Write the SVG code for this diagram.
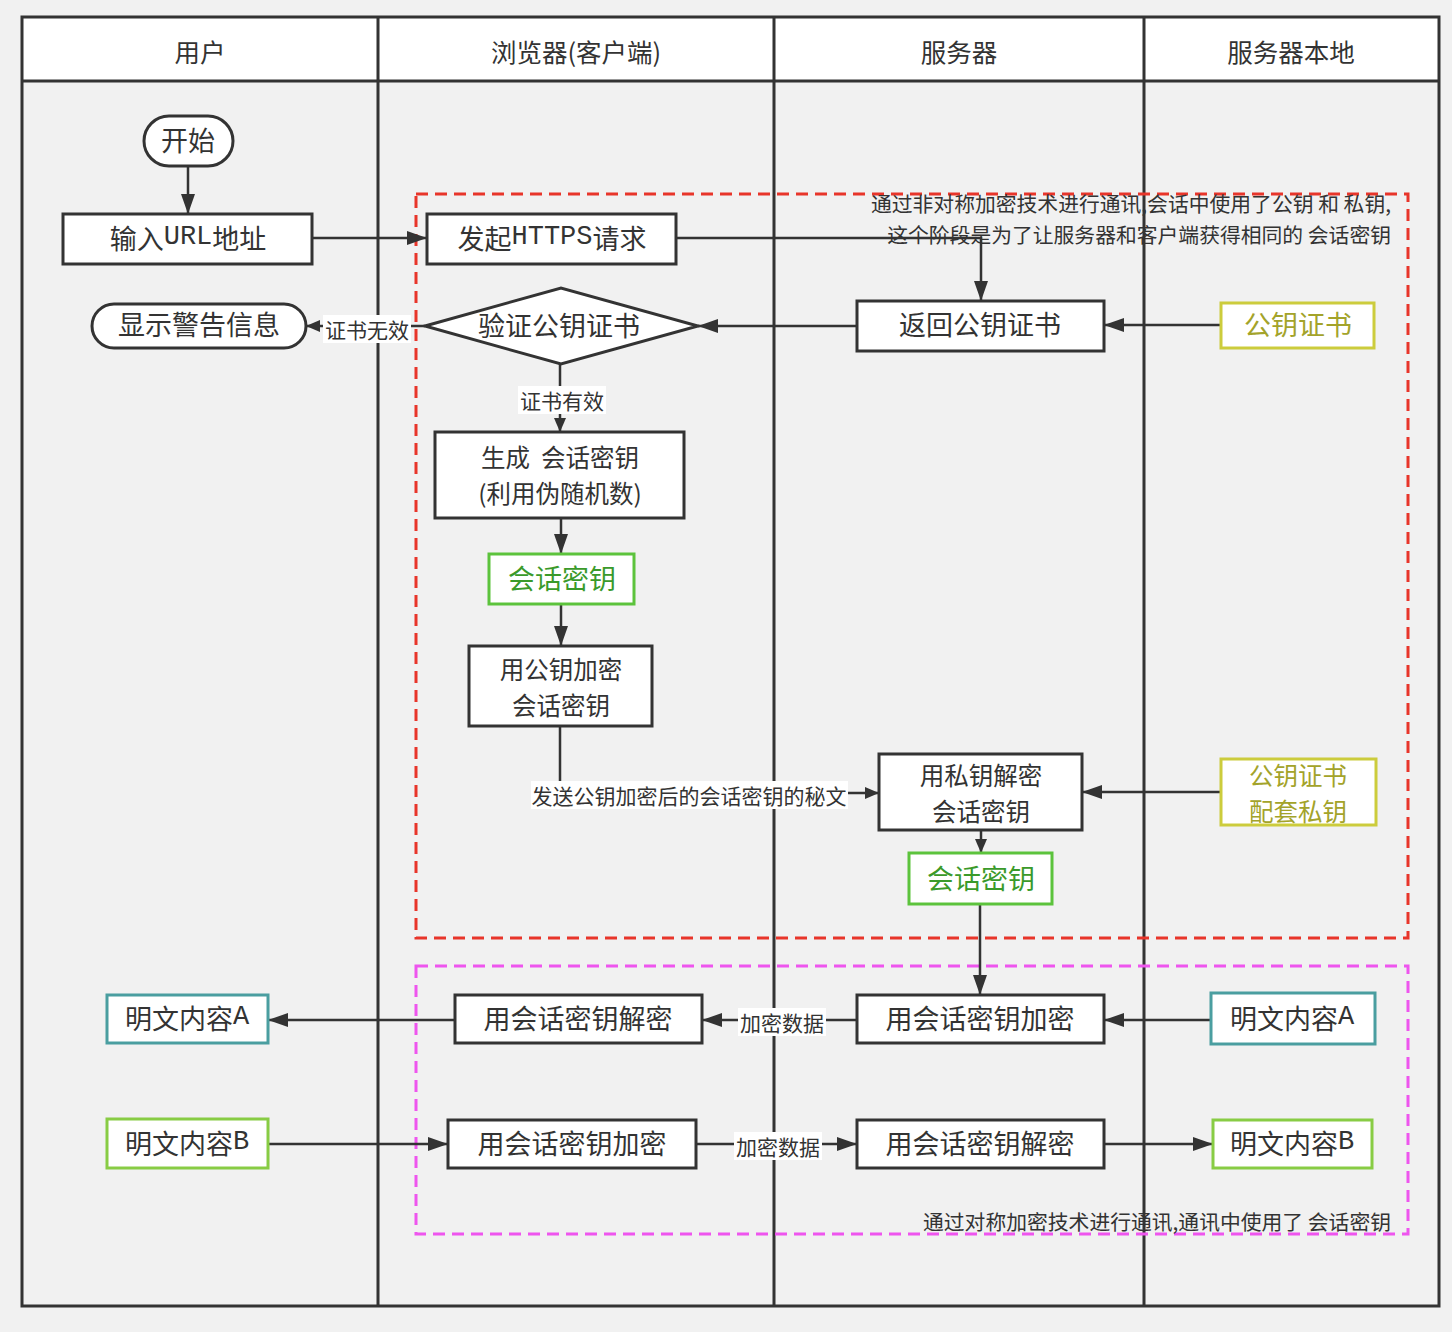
<svg xmlns="http://www.w3.org/2000/svg" width="1452" height="1332" viewBox="0 0 1452 1332">
<defs>
<style>
.t{font-family:"Noto Sans CJK SC","Liberation Sans",sans-serif;fill:#333;text-anchor:middle;dominant-baseline:central}
.n{font-size:27px}
.n2{font-size:24.5px}
.h{font-size:25.5px}
.l{font-size:21px}
.a{font-size:20.8px;text-anchor:end}
.box{fill:#fff;stroke:#333;stroke-width:3}
.lane{stroke:#333;stroke-width:3;fill:none}
.c{stroke:#333;stroke-width:2.5;fill:none}
.lb{fill:#fff}
</style>
<marker id="ar" markerUnits="userSpaceOnUse" viewBox="0 0 20 14" markerWidth="20" markerHeight="14" refX="20" refY="7" orient="auto"><path d="M0,0 L20,7 L0,14 z" fill="#333"/></marker>
<marker id="as" markerUnits="userSpaceOnUse" viewBox="0 0 14 12" markerWidth="14" markerHeight="12" refX="14" refY="6" orient="auto"><path d="M0,0 L14,6 L0,12 z" fill="#333"/></marker>
</defs>
<rect x="0" y="0" width="1452" height="1332" fill="#f1f1f1"/>
<g id="lanes">
<rect x="22" y="17" width="1417" height="64" fill="#fff"/>
<rect x="22" y="17" width="1417" height="1289" class="lane"/>
<line x1="22" y1="81" x2="1439" y2="81" class="lane"/>
<line x1="378" y1="17" x2="378" y2="1306" class="lane"/>
<line x1="774" y1="17" x2="774" y2="1306" class="lane"/>
<line x1="1144" y1="17" x2="1144" y2="1306" class="lane"/>
<text class="t h" x="200" y="50">用户</text>
<text class="t h" x="576" y="50">浏览器(客户端)</text>
<text class="t h" x="959" y="50">服务器</text>
<text class="t h" x="1291" y="50">服务器本地</text>
</g>
<g id="groups">
<rect x="416" y="194" width="992" height="744" fill="none" stroke="#e8352a" stroke-width="3" stroke-dasharray="12 7"/>
<rect x="416" y="966" width="992" height="268" fill="none" stroke="#ee55ee" stroke-width="3" stroke-dasharray="12 7"/>
<text class="t a" x="1391" y="203">通过非对称加密技术进行通讯,会话中使用了公钥 和 私钥,</text>
<text class="t a" x="1391" y="234">这个阶段是为了让服务器和客户端获得相同的 会话密钥</text>
<text class="t a" x="1391" y="1221">通过对称加密技术进行通讯,通讯中使用了 会话密钥</text>
</g>
<g id="connectors">
<line class="c" x1="188" y1="166" x2="188" y2="214" marker-end="url(#ar)"/>
<line class="c" x1="312" y1="238" x2="427" y2="238" marker-end="url(#ar)"/>
<polyline class="c" points="676,238 981,238 981,301" marker-end="url(#ar)"/>
<line class="c" x1="857" y1="326" x2="698" y2="326" marker-end="url(#ar)"/>
<line class="c" x1="1221" y1="325" x2="1104" y2="325" marker-end="url(#ar)"/>
<line class="c" x1="425" y1="326" x2="306" y2="326" marker-end="url(#as)"/>
<line class="c" x1="560" y1="364" x2="560" y2="432" marker-end="url(#as)"/>
<line class="c" x1="561" y1="518" x2="561" y2="554" marker-end="url(#ar)"/>
<line class="c" x1="561" y1="604" x2="561" y2="646" marker-end="url(#ar)"/>
<polyline class="c" points="560,726 560,793 879,793" marker-end="url(#as)"/>
<line class="c" x1="1221" y1="792" x2="1082" y2="792" marker-end="url(#ar)"/>
<line class="c" x1="981" y1="830" x2="981" y2="853" marker-end="url(#as)"/>
<line class="c" x1="980" y1="904" x2="980" y2="995" marker-end="url(#ar)"/>
<line class="c" x1="857" y1="1020" x2="702" y2="1020" marker-end="url(#ar)"/>
<line class="c" x1="455" y1="1020" x2="268" y2="1020" marker-end="url(#ar)"/>
<line class="c" x1="1211" y1="1020" x2="1104" y2="1020" marker-end="url(#ar)"/>
<line class="c" x1="268" y1="1144" x2="448" y2="1144" marker-end="url(#ar)"/>
<line class="c" x1="696" y1="1144" x2="857" y2="1144" marker-end="url(#ar)"/>
<line class="c" x1="1104" y1="1144" x2="1213" y2="1144" marker-end="url(#ar)"/>
<rect class="lb" x="323" y="315" width="88" height="28"/>
<text class="t l" x="367" y="329">证书无效</text>
<rect class="lb" x="518" y="386" width="88" height="28"/>
<text class="t l" x="562" y="400">证书有效</text>
<rect class="lb" x="531" y="781" width="317" height="28"/>
<text class="t l" x="689" y="795">发送公钥加密后的会话密钥的秘文</text>
<rect class="lb" x="738" y="1008" width="88" height="28"/>
<text class="t l" x="782" y="1022">加密数据</text>
<rect class="lb" x="734" y="1132" width="88" height="28"/>
<text class="t l" x="778" y="1146">加密数据</text>
</g>
<g id="start"><rect class="box" x="144" y="116" width="89" height="50" rx="25"/><text class="t n" x="188" y="139">开始</text></g>
<g id="inputUrl"><rect class="box" x="63" y="214" width="249" height="50"/><text class="t n" x="188" y="237">输入<tspan style="font-family:'Liberation Mono',monospace">URL</tspan>地址</text></g>
<g id="https"><rect class="box" x="427" y="214" width="249" height="50"/><text class="t n" x="552" y="237">发起<tspan style="font-family:'Liberation Mono',monospace">HTTPS</tspan>请求</text></g>
<g id="warn"><rect class="box" x="92" y="304" width="214" height="44" rx="22"/><text class="t n" x="199" y="323">显示警告信息</text></g>
<g id="verify"><polygon class="box" points="425,326 561,288 698,326 561,364"/><text class="t n" x="559" y="324">验证公钥证书</text></g>
<g id="returnCert"><rect class="box" x="857" y="301" width="247" height="50"/><text class="t n" x="980" y="323">返回公钥证书</text></g>
<g id="cert"><rect x="1221" y="303" width="153" height="45" fill="#fff" stroke="#cccc3c" stroke-width="3"/><text class="t n" x="1298" y="323" style="fill:#a3a32a">公钥证书</text></g>
<g id="genKey"><rect class="box" x="435" y="432" width="249" height="86"/><text class="t n2" x="560" y="456"><tspan x="560" y="456">生成&#160;&#160;会话密钥</tspan><tspan x="560" y="492">(利用伪随机数)</tspan></text></g>
<g id="key1"><rect x="489" y="554" width="145" height="50" fill="#fff" stroke="#5cc33c" stroke-width="3"/><text class="t n" x="562" y="577" style="fill:#3a9a2a">会话密钥</text></g>
<g id="encKey"><rect class="box" x="469" y="646" width="183" height="80"/><text class="t n2" x="561" y="668"><tspan x="561" y="668">用公钥加密</tspan><tspan x="561" y="704">会话密钥</tspan></text></g>
<g id="decKey"><rect class="box" x="879" y="754" width="203" height="76"/><text class="t n2" x="981" y="774"><tspan x="981" y="774">用私钥解密</tspan><tspan x="981" y="810">会话密钥</tspan></text></g>
<g id="privKey"><rect x="1221" y="759" width="155" height="66" fill="#fff" stroke="#cccc3c" stroke-width="3"/><text class="t n2" x="1298" y="774" style="fill:#a3a32a"><tspan x="1298" y="774">公钥证书</tspan><tspan x="1298" y="810">配套私钥</tspan></text></g>
<g id="key2"><rect x="909" y="853" width="143" height="51" fill="#fff" stroke="#5cc33c" stroke-width="3"/><text class="t n" x="981" y="877" style="fill:#3a9a2a">会话密钥</text></g>
<g id="plainA1"><rect x="107" y="995" width="161" height="48" fill="#fff" stroke="#4a9ea0" stroke-width="3"/><text class="t n" x="187" y="1017">明文内容<tspan style="font-family:'Liberation Mono',monospace">A</tspan></text></g>
<g id="bDec"><rect class="box" x="455" y="995" width="247" height="48"/><text class="t n" x="578" y="1017">用会话密钥解密</text></g>
<g id="sEnc"><rect class="box" x="857" y="995" width="247" height="48"/><text class="t n" x="980" y="1017">用会话密钥加密</text></g>
<g id="plainA2"><rect x="1211" y="993" width="164" height="51" fill="#fff" stroke="#4a9ea0" stroke-width="3"/><text class="t n" x="1292" y="1017">明文内容<tspan style="font-family:'Liberation Mono',monospace">A</tspan></text></g>
<g id="plainB1"><rect x="107" y="1119" width="161" height="49" fill="#fff" stroke="#88cc44" stroke-width="3"/><text class="t n" x="187" y="1142">明文内容<tspan style="font-family:'Liberation Mono',monospace">B</tspan></text></g>
<g id="bEnc"><rect class="box" x="448" y="1120" width="248" height="48"/><text class="t n" x="572" y="1142">用会话密钥加密</text></g>
<g id="sDec"><rect class="box" x="857" y="1120" width="247" height="48"/><text class="t n" x="980" y="1142">用会话密钥解密</text></g>
<g id="plainB2"><rect x="1213" y="1120" width="159" height="48" fill="#fff" stroke="#88cc44" stroke-width="3"/><text class="t n" x="1292" y="1142">明文内容<tspan style="font-family:'Liberation Mono',monospace">B</tspan></text></g>
</svg>
